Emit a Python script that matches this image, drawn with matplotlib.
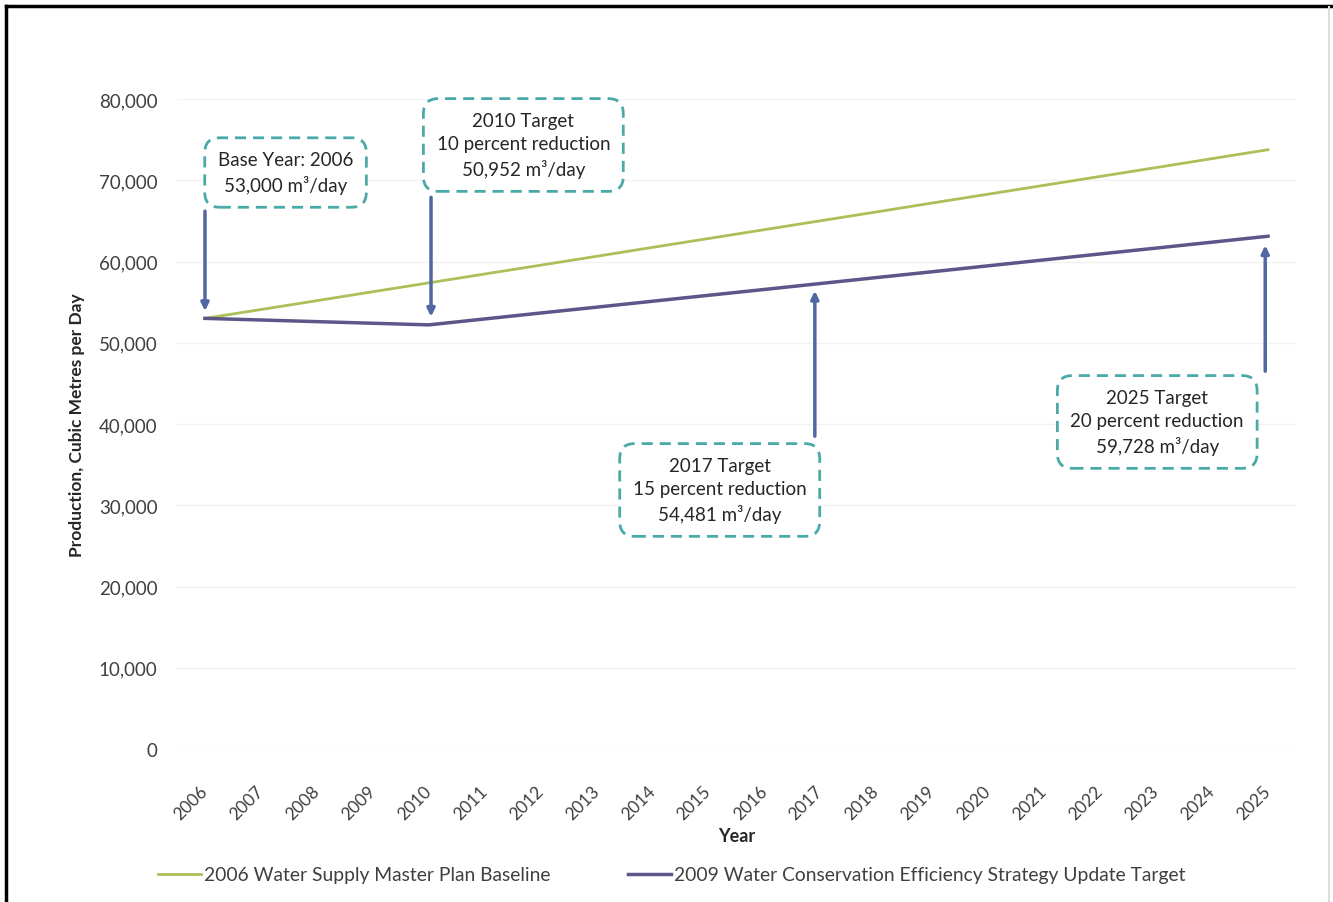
import matplotlib
matplotlib.use("Agg")
import matplotlib.pyplot as plt
from matplotlib.lines import Line2D

plt.rcParams['font.family'] = ['Lato', 'DejaVu Sans']

years = [2006, 2007, 2008, 2009, 2010, 2011, 2012, 2013, 2014, 2015,
         2016, 2017, 2018, 2019, 2020, 2021, 2022, 2023, 2024, 2025]
baseline = [53000, 54090, 55180, 56280, 57370, 58460, 59550, 60640, 61740, 62830,
            63920, 65010, 66100, 67200, 68290, 69380, 70470, 71560, 72660, 73760]
target = [53000, 52800, 52600, 52400, 52200, 52930, 53660, 54380, 55110, 55840,
          56560, 57290, 58020, 58740, 59470, 60200, 60930, 61650, 62380, 63110]
series_names = ["2006 Water Supply Master Plan Baseline",
                "2009 Water Conservation Efficiency Strategy Update Target"]
y_ticks = [0, 10000, 20000, 30000, 40000, 50000, 60000, 70000, 80000]

notes = ["Base Year: 2006\n53,000 m\u00b3/day",
         "2010 Target\n10 percent reduction\n50,952 m\u00b3/day",
         "2017 Target\n15 percent reduction\n54,481 m\u00b3/day",
         "2025 Target\n20 percent reduction\n59,728 m\u00b3/day"]
note_xy = [(2007.44, 70950), (2011.69, 74340), (2015.2, 31880), (2023.02, 40250)]
arrow_from = [(2006.0, 66200), (2010.04, 67900), (2016.9, 38500), (2024.95, 46500)]
arrow_to = [(2006.0, 53900), (2010.04, 53200), (2016.9, 56400), (2024.95, 62000)]

W, H = 1333, 903
fig = plt.figure(figsize=(W / 100, H / 100), dpi=100)
ax = fig.add_axes([177 / W, (H - 750) / H, (1296 - 177) / W, 650 / H])

green = '#adbf58'
purple = '#5b5788'
arrow_c = '#5067a3'
teal = '#4aaaa8'

ax.plot(years, baseline, color=green, lw=2, label=series_names[0])
ax.plot(years, target, color=purple, lw=2.5, label=series_names[1])

ax.set_xlim(2005.5, 2025.5)
ax.set_ylim(0, 80000)
ax.set_yticks(y_ticks)
ax.set_yticklabels([f"{v:,}" for v in y_ticks])
ax.set_xticks(years)
ax.set_xticklabels([str(y) for y in years], rotation=45, ha='right',
                   va='center', rotation_mode='anchor')
for s in ax.spines.values():
    s.set_visible(False)
ax.grid(axis='y', color='#f2f2f2', lw=1)
ax.set_axisbelow(True)
ax.tick_params(axis='x', length=0, pad=28, labelsize=12.5, colors='#404040')
ax.tick_params(axis='y', length=0, pad=14, labelsize=13.5, colors='#404040')

ax.set_xlabel("Year", fontsize=13, fontweight='bold', color='#262626', labelpad=4)
ax.set_ylabel("Production, Cubic Metres per Day", fontsize=12.5, fontweight='bold',
              color='#262626', labelpad=10)

for (x0, y0), (x1, y1) in zip(arrow_from, arrow_to):
    ax.annotate('', xy=(x1, y1), xytext=(x0, y0),
                arrowprops=dict(arrowstyle='-|>,head_length=0.45,head_width=0.22',
                                color=arrow_c, lw=2.5, shrinkA=0, shrinkB=0))

for txt, (x, y) in zip(notes, note_xy):
    ax.text(x, y, txt, ha='center', va='center', fontsize=13.5, color='#262626',
            linespacing=1.45,
            bbox=dict(boxstyle='round,pad=0.7,rounding_size=0.8', fc='white',
                      ec=teal, lw=2, ls=(0, (4, 2.5))))

handles = [Line2D([], [], color=green, lw=2), Line2D([], [], color=purple, lw=2.5)]
fig.legend(handles, series_names, loc='center', bbox_to_anchor=(672 / W, 1 - 876 / H),
           ncol=2, frameon=False, fontsize=13.9, handlelength=2.2, handletextpad=0.2,
           columnspacing=4.0, labelcolor='#404040')

# figure border
fig.add_artist(Line2D([6 / W, 1], [1 - 7 / H, 1 - 7 / H], color='black', lw=2.5,
                      transform=fig.transFigure))
fig.add_artist(Line2D([6 / W, 6 / W], [0, 1 - 7 / H], color='black', lw=2.5,
                      transform=fig.transFigure))
fig.add_artist(Line2D([1329 / W, 1329 / W], [0, 1 - 8 / H], color='#dddddd', lw=1.5,
                      transform=fig.transFigure))

fig.savefig("out.png", dpi=100)
